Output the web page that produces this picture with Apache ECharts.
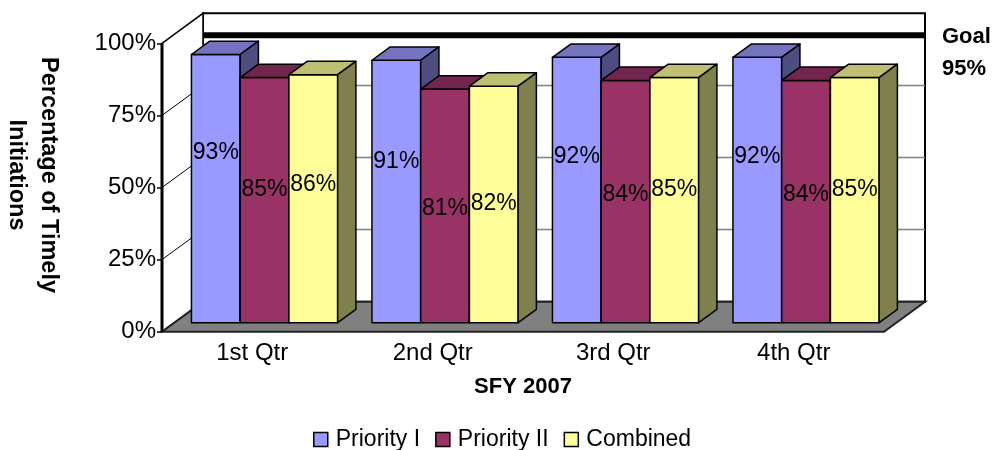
<!DOCTYPE html>
<html>
<head>
<meta charset="utf-8">
<script src="https://cdn.jsdelivr.net/npm/echarts@6/dist/echarts.min.js"></script>
<style>html,body{margin:0;padding:0;background:#fff}#c{width:995px;height:450px}</style>
</head>
<body>
<div id="c"></div>
<script>
// ---- data ----
const categories = ['1st Qtr', '2nd Qtr', '3rd Qtr', '4th Qtr'];
const seriesNames = ['Priority I', 'Priority II', 'Combined'];
const priority1 = [93, 91, 92, 92];
const priority2 = [85, 81, 84, 84];
const combined = [86, 82, 85, 85];
const yTicks = [0, 25, 50, 75, 100];
const goalValue = 95;
const xAxisTitle = 'SFY 2007';
const yAxisTitle = 'Percentage of Timely\nInitiations';

// ---- styling ----
const FONT = "'Liberation Sans', Arial, sans-serif";
const frontColors = ['#9999FF', '#993366', '#FFFF99'];
const topColors = ['#7373BF', '#73264D', '#BFBF73'];
const sideColors = ['#4D4D80', '#4D1A33', '#80804D'];
const DX = 41, DY = -30;          // full depth vector in pixels
const FRONT_D = 0.3, BAR_D = 0.445, GOAL_D = 0.745;
const BAR_FRAC = 0.27;

const chart = echarts.init(document.getElementById('c'), null, {renderer: 'canvas'});

function frameRenderer(params, api) {
  const cs = params.coordSys;
  const x0 = cs.x, x1 = cs.x + cs.width;
  const y0 = api.coord([0, yTicks[0]])[1];
  const yTop = api.coord([0, yTicks[yTicks.length - 1]])[1];
  const children = [];
  // back wall
  children.push({type: 'rect', shape: {x: x0 + DX, y: yTop + DY, width: cs.width, height: y0 - yTop},
    style: {fill: '#fff', stroke: '#000', lineWidth: 2}});
  // side wall
  children.push({type: 'polygon', shape: {points: [[x0, yTop], [x0 + DX, yTop + DY], [x0 + DX, y0 + DY], [x0, y0]]},
    style: {fill: '#fff', stroke: '#000', lineWidth: 1.5}});
  // gridlines
  yTicks.slice(1, -1).forEach(function (t) {
    const y = api.coord([0, t])[1];
    children.push({type: 'line', shape: {x1: x0 + DX, y1: y + DY, x2: x1 + DX, y2: y + DY},
      style: {stroke: '#808080', lineWidth: 1.5}});
    children.push({type: 'line', shape: {x1: x0, y1: y, x2: x0 + DX, y2: y + DY},
      style: {stroke: '#000', lineWidth: 1}});
  });
  // floor
  children.push({type: 'polygon', shape: {points: [[x0, y0], [x0 + DX, y0 + DY], [x1 + DX, y0 + DY], [x1, y0]]},
    style: {fill: '#808080', stroke: '#222', lineWidth: 2}});
  // front-left axis edge
  children.push({type: 'line', shape: {x1: x0, y1: yTop, x2: x0, y2: y0},
    style: {stroke: '#000', lineWidth: 3}});
  // goal line
  const gy = api.coord([0, goalValue])[1] + GOAL_D * DY;
  children.push({type: 'line', shape: {x1: x0 + DX, y1: gy, x2: x1 + DX, y2: gy},
    style: {stroke: '#000', lineWidth: 6}});
  return {type: 'group', children: children};
}

function labelValue(v) { return 1.62 * v - 91.6; }

function makeBarRenderer(sIdx) {
  return function (params, api) {
    const cat = api.value(0), v = api.value(1);
    const band = api.size([1, 0])[0];
    const bw = band * BAR_FRAC;
    const basePt = api.coord([cat, 0]);
    const topY = api.coord([cat, v])[1];
    const ox = FRONT_D * DX, oy = FRONT_D * DY;
    const bx = BAR_D * DX, by = BAR_D * DY;
    const left = basePt[0] - 1.5 * bw + sIdx * bw + ox;
    const right = left + bw;
    const yb = basePt[1] + oy, yt = topY + oy;
    const ly = api.coord([cat, labelValue(v)])[1] + oy;
    const stroke = {stroke: '#000', lineWidth: 1.5, lineJoin: 'round'};
    return {
      type: 'group',
      children: [
        {type: 'rect', shape: {x: left, y: yt, width: bw, height: yb - yt},
          style: Object.assign({fill: frontColors[sIdx]}, stroke)},
        {type: 'polygon', shape: {points: [[left, yt], [right, yt], [right + bx, yt + by], [left + bx, yt + by]]},
          style: Object.assign({fill: topColors[sIdx]}, stroke)},
        {type: 'polygon', shape: {points: [[right, yt], [right + bx, yt + by], [right + bx, yb + by], [right, yb]]},
          style: Object.assign({fill: sideColors[sIdx]}, stroke)},
        {type: 'text', z2: 100, x: (left + right) / 2, y: ly,
          style: {text: v + '%', fill: '#000', font: '23px ' + FONT, align: 'center', verticalAlign: 'middle'}}
      ]
    };
  };
}

const seriesData = [priority1, priority2, combined];

const series = [{
  type: 'custom', name: '__frame', silent: true, z: 1,
  renderItem: frameRenderer,
  data: [[0, 0]]
}];
seriesData.forEach(function (arr, i) {
  series.push({
    type: 'custom',
    name: seriesNames[i],
    z: 2,
    itemStyle: {color: frontColors[i], borderColor: '#000', borderWidth: 1.5},
    renderItem: makeBarRenderer(i),
    encode: {x: 0, y: 1},
    data: arr.map(function (v, c) { return [c, v]; })
  });
});

const option = {
  animation: false,
  backgroundColor: '#fff',
  textStyle: {fontFamily: FONT},
  grid: {left: 162, right: 111, top: 43.3, bottom: 118.3, containLabel: false},
  xAxis: {
    type: 'category',
    data: categories,
    axisLine: {show: false},
    axisTick: {show: false},
    axisLabel: {fontSize: 24, color: '#000', margin: 10, fontFamily: FONT},
    name: xAxisTitle,
    nameLocation: 'middle',
    nameGap: 44,
    nameTextStyle: {fontSize: 22, fontWeight: 'bold', color: '#000', fontFamily: FONT}
  },
  yAxis: {
    type: 'value',
    min: yTicks[0], max: yTicks[yTicks.length - 1], interval: yTicks[1] - yTicks[0],
    axisLine: {show: false},
    axisTick: {show: true, length: 5, lineStyle: {color: '#000', width: 1.5}},
    splitLine: {show: false},
    axisLabel: {fontSize: 24, color: '#000', margin: 6, fontFamily: FONT, formatter: '{value}%'}
  },
  legend: {
    data: seriesNames.map(function (n, i) {
      return {name: n, icon: 'rect', itemStyle: {color: frontColors[i], borderColor: '#000', borderWidth: 1.5}};
    }),
    left: 313, top: 428, padding: 0,
    itemWidth: 14, itemHeight: 14, itemGap: 15,
    textStyle: {fontSize: 23, color: '#000', fontFamily: FONT, padding: [0, 0, 0, 3]}
  },
  graphic: [
    {type: 'text', x: 32, y: 175, rotation: -Math.PI / 2,
      style: {text: yAxisTitle, font: 'bold 23.5px ' + FONT, fill: '#000', align: 'center', verticalAlign: 'middle', lineHeight: 32}},
    {type: 'text', x: 942, y: 53,
      style: {text: 'Goal\n' + goalValue + '%', font: 'bold 22px ' + FONT, fill: '#000', align: 'left', verticalAlign: 'middle', lineHeight: 31.5}}
  ],
  series: series
};
chart.setOption(option);
</script>
</body>
</html>
